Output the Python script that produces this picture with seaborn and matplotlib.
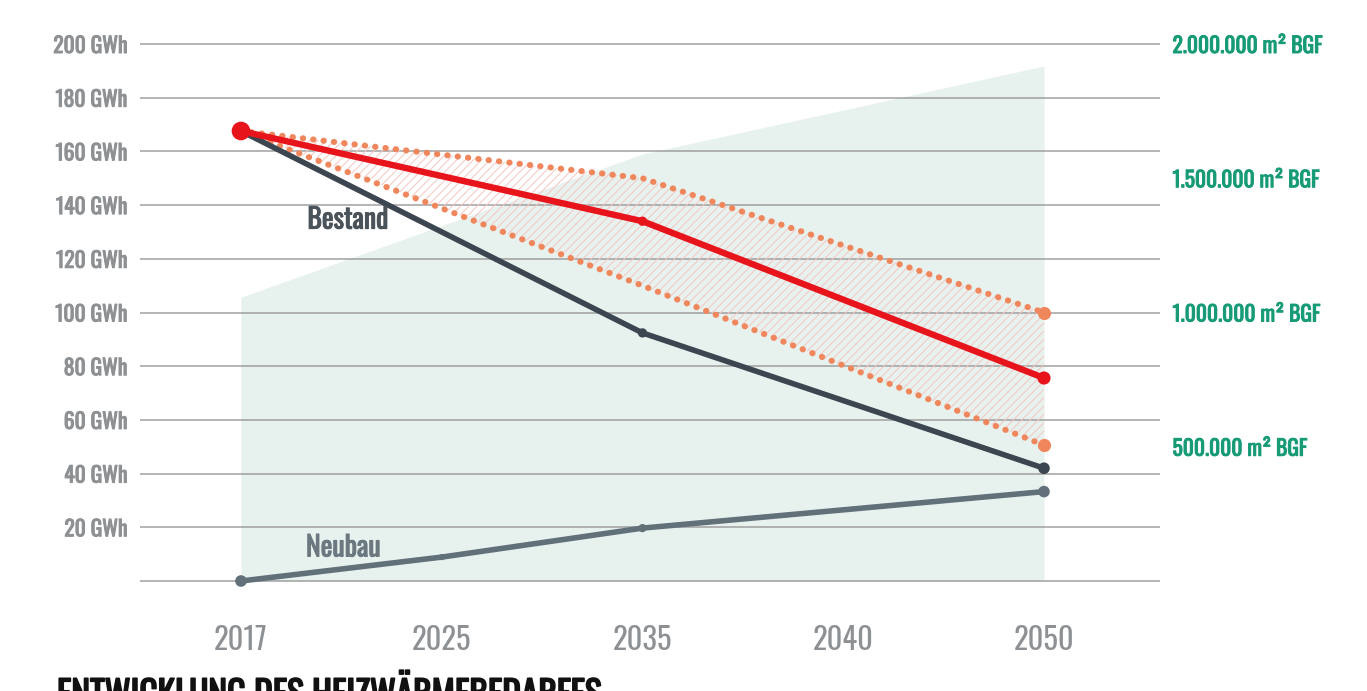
import numpy as np
import pandas as pd
import matplotlib
matplotlib.use("Agg")
import matplotlib.pyplot as plt
import matplotlib.patheffects as pe
import seaborn as sns

# --- data -------------------------------------------------------------
years = ["2017", "2025", "2035", "2040", "2050"]

bestand_years = ["2017", "2035", "2050"]
bestand_gwh = [167.6, 92.4, 42.0]

ziel_years = ["2017", "2035", "2050"]
ziel_gwh = [167.6, 134.0, 75.6]
ziel_upper_gwh = [167.6, 150.0, 100.0]
ziel_lower_gwh = [167.6, 110.0, 50.6]

neubau_years = ["2017", "2025", "2035", "2050"]
neubau_gwh = [0.0, 8.9, 19.7, 33.3]

flaeche_years = ["2017", "2035", "2050"]
flaeche_m2 = [1057000, 1590000, 1918000]

gwh_ticks = [20, 40, 60, 80, 100, 120, 140, 160, 180, 200]
m2_ticks = [500000, 1000000, 1500000, 2000000]
m2_labels = ["500.000 m\u00b2 BGF", "1.000.000 m\u00b2 BGF",
             "1.500.000 m\u00b2 BGF", "2.000.000 m\u00b2 BGF"]
title = "ENTWICKLUNG DES HEIZWÄRMEBEDARFES"

# --- style ------------------------------------------------------------
sns.set_theme(style="white")
plt.rcParams["font.family"] = ["Oswald", "DejaVu Sans"]
plt.rcParams["hatch.linewidth"] = 0.7

C_GRID = "#a0a0a0"
C_TICK = "#8e9194"
C_TEAL = "#179b77"
C_DARK = "#3c4650"
C_NEU = "#617079"
C_RED = "#e8141c"
C_ORANGE = "#f0875c"
C_AREA = "#e7f1ee"
C_HATCH = "#f5c6c1"

def heavier(color, w=0.7):
    # thicken the single-weight condensed face a little
    return [pe.withStroke(linewidth=w, foreground=color)]

pos = {y: i for i, y in enumerate(years)}

def frame(yrs, vals):
    return pd.DataFrame({"x": [pos[y] for y in yrs], "v": vals})

fig = plt.figure(figsize=(13.67, 6.91), dpi=100)
W, H = 1367, 691
# gridlines 0 .. 200 GWh run from y=581 px to y=44 px
ylo, yhi = -5, 205
px_per = (581 - 44) / 200
top_px = 44 - (yhi - 200) * px_per
bot_px = 581 + (0 - ylo) * px_per
ax = fig.add_axes([140 / W, 1 - bot_px / H, (1160 - 140) / W, (bot_px - top_px) / H])
ax2 = ax.twinx()

# building floor area on the right axis, kept behind the GWh lines
area = frame(flaeche_years, flaeche_m2)
ax2.fill_between(area["x"], 0, area["v"], color=C_AREA, lw=0, zorder=0)
ax2.set_ylim(ylo * 10000, yhi * 10000)
ax.set_zorder(ax2.get_zorder() + 1)
ax.patch.set_visible(False)

# hatched corridor between the dotted bounds
up = frame(ziel_years, ziel_upper_gwh)
lo = frame(ziel_years, ziel_lower_gwh)
ax.fill_between(up["x"], lo["v"], up["v"], facecolor="none",
                edgecolor=C_HATCH, hatch="////", lw=0, zorder=1)

dot_style = dict(color=C_ORANGE, lw=4.4, dashes=(0.05, 1.65),
                 dash_capstyle="round", zorder=3)
sns.lineplot(data=up, x="x", y="v", ax=ax, **dot_style)
sns.lineplot(data=lo, x="x", y="v", ax=ax, **dot_style)
ax.scatter(up["x"].iloc[-1:], up["v"].iloc[-1:], s=90, color=C_ORANGE, lw=0, zorder=4)
ax.scatter(lo["x"].iloc[-1:], lo["v"].iloc[-1:], s=90, color=C_ORANGE, lw=0, zorder=4)

# Neubau
neu = frame(neubau_years, neubau_gwh)
sns.lineplot(data=neu, x="x", y="v", ax=ax, color=C_NEU, lw=4.0,
             solid_capstyle="round", zorder=3, clip_on=False)
ax.scatter(neu["x"], neu["v"], s=[70, 20, 35, 70], color=C_NEU, lw=0,
           zorder=4, clip_on=False)

# Bestand
bes = frame(bestand_years, bestand_gwh)
sns.lineplot(data=bes, x="x", y="v", ax=ax, color=C_DARK, lw=4.0,
             solid_capstyle="round", zorder=5)
ax.scatter(bes["x"], bes["v"], s=[30, 45, 70], color=C_DARK, lw=0, zorder=5)

# target path
zi = frame(ziel_years, ziel_gwh)
sns.lineplot(data=zi, x="x", y="v", ax=ax, color=C_RED, lw=4.6,
             solid_capstyle="round", zorder=6)
ax.scatter(zi["x"], zi["v"], s=[180, 45, 90], color=C_RED, lw=0, zorder=7)

# axes
ax.set_xlim(-0.503, 4.578)
ax.set_ylim(ylo, yhi)
ax.set_yticks(gwh_ticks + [0])
ax.set_yticklabels([f"{t} GWh" for t in gwh_ticks] + [""])
ax.set_xticks(range(len(years)))
ax.set_xticklabels(years)
ax.set_xlabel("")
ax.set_ylabel("")
ax.grid(axis="y", color=C_GRID, lw=1.1)
ax.grid(axis="x", visible=False)
ax.tick_params(axis="y", length=0, pad=9, labelsize=15.5, labelcolor=C_TICK)
ax.tick_params(axis="x", length=0, pad=22, labelsize=22, labelcolor=C_TICK)
for lab in ax.get_yticklabels():
    lab.set_path_effects(heavier(C_TICK))

ax2.set_yticks(m2_ticks)
ax2.set_yticklabels(m2_labels)
ax2.tick_params(axis="y", length=0, pad=9, labelsize=15.5, labelcolor=C_TEAL)
for lab in ax2.get_yticklabels():
    lab.set_path_effects(heavier(C_TEAL))
ax2.grid(False)

for a in (ax, ax2):
    for s in a.spines.values():
        s.set_visible(False)

ax.text(0.533, 134.4, "Bestand", fontsize=20, color="#4a525a",
        ha="center", va="center", zorder=8, path_effects=heavier("#4a525a"))
ax.text(0.51, 12.3, "Neubau", fontsize=20, color="#6b787f",
        ha="center", va="center", zorder=8, path_effects=heavier("#6b787f"))

fig.text(57 / W, 1 - 677 / H, title, fontsize=25.5, color="#111111",
         ha="left", va="top", path_effects=heavier("#111111", 1.2))

fig.savefig("out.png", dpi=100, facecolor="white")
